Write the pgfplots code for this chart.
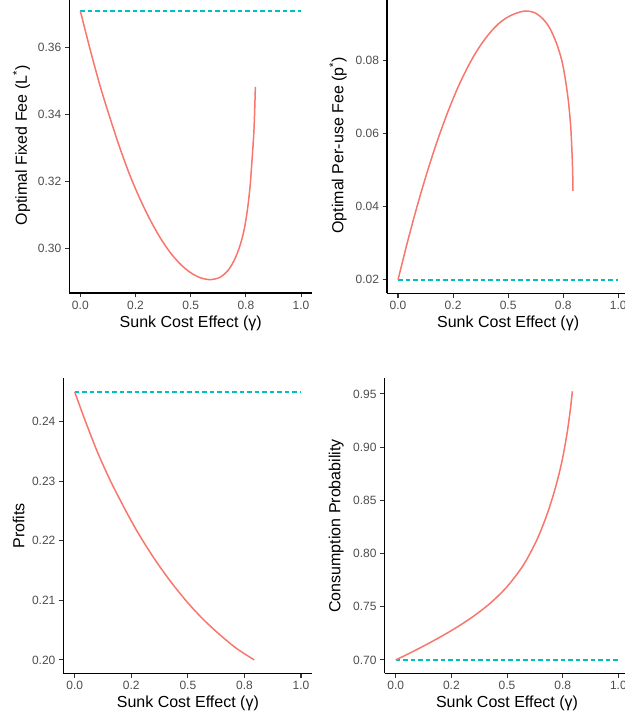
\documentclass[border=0pt]{standalone}
\usepackage{pgfplots}
\pgfplotsset{compat=1.18}
\usepackage{fontspec}
\setmainfont{Liberation Sans}
\definecolor{ggred}{HTML}{F8766D}
\definecolor{ggcyan}{HTML}{00BFC4}
\definecolor{ticktext}{HTML}{4D4D4D}
\definecolor{tickmark}{HTML}{333333}
\pgfplotsset{
  ggclassic/.style={
    scale only axis,
    anchor=south west,
    axis lines=left,
    axis line style={-, black, line width=1.1bp},
    xmin=-0.05, xmax=1.05,
    xtick={0,0.25,0.5,0.75,1},
    xticklabels={0.0,0.2,0.5,0.8,1.0},
    scaled y ticks=false,
    tick align=outside,
    major tick length=4.5bp,
    every tick/.style={tickmark, line width=1.1bp},
    tick label style={font=\fontsize{12bp}{14bp}\selectfont, text=ticktext},
    label style={font=\fontsize{16bp}{19bp}\selectfont, text=black},
    /pgf/number format/assume math mode=true,
    /pgf/number format/fixed,
    /pgf/number format/fixed zerofill,
    /pgf/number format/precision=2,
    xlabel={Sunk Cost Effect (γ)},
    xlabel style={at={(axis description cs:0.5,-0.1017)}, anchor=center},
  },
  ggcurve/.style={ggred, line width=1.5bp, smooth, tension=0.5, no markers},
  ggbase/.style={ggcyan, line width=1.5bp, dash pattern=on 4.5bp off 3bp, no markers},
}
\begin{document}
\begin{tikzpicture}
\useasboundingbox (0,0) rectangle (625bp,719bp);
% ---------- top left ----------
\begin{axis}[ggclassic, at={(69.3bp,426bp)}, width=242.8bp, height=295.4bp,
  ymin=0.2867, ymax=0.3750, ytick={0.30,0.32,0.34,0.36},
  ylabel={Optimal Fixed Fee (L\textsuperscript{*})},
  ylabel style={at={(axis description cs:-0.197,0.5)}, anchor=center}]
\addplot[ggbase] coordinates {(0,0.3710) (1,0.3710)};
\addplot[ggcurve] coordinates {(0,0.3710) (0.044,0.3596) (0.089,0.3487) (0.135,0.3389) (0.180,0.3299) (0.225,0.3218) (0.271,0.3147) (0.316,0.3086) (0.361,0.3033) (0.406,0.2989) (0.452,0.2954) (0.497,0.2929) (0.542,0.2913) (0.588,0.2907) (0.633,0.2914) (0.671,0.2936) (0.701,0.2970) (0.724,0.3010) (0.742,0.3056) (0.757,0.3116) (0.769,0.3186) (0.778,0.3266) (0.786,0.3346) (0.790,0.3416) (0.793,0.3483)};
\end{axis}
% ---------- top right ----------
\begin{axis}[ggclassic, at={(387bp,425.7bp)}, width=242.3bp, height=295.8bp,
  ymin=0.016325, ymax=0.0972, ytick={0.02,0.04,0.06,0.08},
  ylabel={Optimal Per-use Fee (p\textsuperscript{*})},
  ylabel style={at={(axis description cs:-0.202,0.5)}, anchor=center}]
\addplot[ggbase] coordinates {(0,0.0200) (1,0.0200)};
\addplot[ggcurve] coordinates {(0,0.0200) (0.038,0.0292) (0.076,0.0378) (0.114,0.0458) (0.152,0.0532) (0.190,0.0600) (0.228,0.0662) (0.266,0.0718) (0.304,0.0767) (0.342,0.0810) (0.380,0.0846) (0.418,0.0876) (0.456,0.0900) (0.494,0.0917) (0.532,0.0928) (0.577,0.0935) (0.622,0.0930) (0.660,0.0912) (0.690,0.0887) (0.720,0.0846) (0.743,0.0801) (0.758,0.0755) (0.773,0.0691) (0.784,0.0619) (0.790,0.0546) (0.793,0.0491) (0.794,0.0443)};
\end{axis}
% ---------- bottom left ----------
\begin{axis}[ggclassic, at={(63.4bp,45.7bp)}, width=248.9bp, height=294.9bp,
  ymin=0.19775, ymax=0.24725, ytick={0.20,0.21,0.22,0.23,0.24},
  ylabel={Profits},
  ylabel style={at={(axis description cs:-0.180,0.5)}, anchor=center}]
\addplot[ggbase] coordinates {(0,0.2450) (1,0.2450)};
\addplot[ggcurve] coordinates {(0,0.2450) (0.038,0.2410) (0.097,0.2352) (0.156,0.2302) (0.215,0.2258) (0.274,0.2217) (0.348,0.2172) (0.421,0.2133) (0.495,0.2098) (0.568,0.2068) (0.642,0.2042) (0.716,0.2019) (0.7935,0.2000)};
\end{axis}
% ---------- bottom right ----------
\begin{axis}[ggclassic, at={(384.6bp,45.7bp)}, width=244.9bp, height=294.8bp,
  ymin=0.6874, ymax=0.9645, ytick={0.70,0.75,0.80,0.85,0.90,0.95},
  ylabel={Consumption Probability},
  ylabel style={at={(axis description cs:-0.198,0.5)}, anchor=center}]
\addplot[ggbase] coordinates {(0,0.7000) (1,0.7000)};
\addplot[ggcurve] coordinates {(0,0.7000) (0.049,0.7049) (0.124,0.7129) (0.199,0.7214) (0.274,0.7306) (0.349,0.7410) (0.424,0.7532) (0.499,0.7686) (0.573,0.7890) (0.633,0.8124) (0.678,0.8358) (0.716,0.8609) (0.746,0.8861) (0.768,0.9110) (0.783,0.9331) (0.7935,0.9525)};
\end{axis}
\end{tikzpicture}
\end{document}
